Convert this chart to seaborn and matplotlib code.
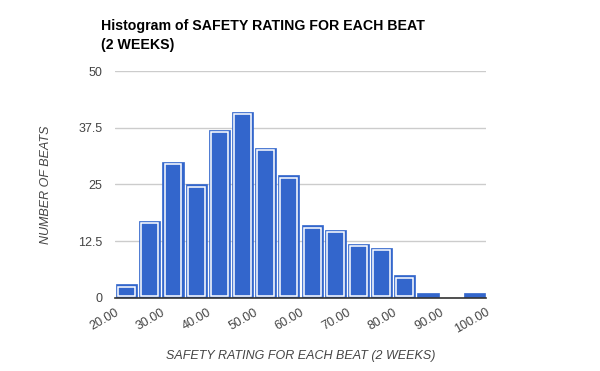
import matplotlib
matplotlib.use('Agg')
import matplotlib.pyplot as plt
from matplotlib.patches import Rectangle
import seaborn as sns

# Histogram bins (width 5) and counts
binEdges = [20, 25, 30, 35, 40, 45, 50, 55, 60, 65, 70, 75, 80, 85, 90, 95, 100]
binStarts = binEdges[:-1]
counts = [3, 17, 30, 25, 37, 41, 33, 27, 16, 15, 12, 11, 5, 1, 0, 1]
xTicks = [20, 30, 40, 50, 60, 70, 80, 90, 100]
yTicks = [0, 12.5, 25, 37.5, 50]

sns.set_style('white')
plt.rcParams['font.family'] = ['Liberation Sans', 'DejaVu Sans']

fig = plt.figure(figsize=(6, 3.71), dpi=100)
ax = fig.add_axes([0.1917, 0.1968, 0.6183, 0.6118])

sns.histplot(x=binStarts, weights=counts, bins=binEdges, ax=ax, shrink=0.91,
             color='#3366cc', alpha=1, edgecolor='#3366cc', linewidth=0.5, zorder=3)

# Google style white inner outline on each bar (inset ~2.5 px)
for p in list(ax.patches):
    h = p.get_height()
    if h > 2:
        x0 = p.get_x()
        w = p.get_width()
        ax.add_patch(Rectangle((x0 + 0.45, 0.5), w - 0.9, h - 1.0,
                               fill=False, edgecolor='white', linewidth=1.1, zorder=4))

ax.set_xlim(20, 100)
ax.set_ylim(0, 50)
ax.set_xticks(xTicks)
ax.set_xticklabels(['%.2f' % t for t in xTicks], rotation=30, ha='right',
                   rotation_mode='anchor', color='#444444', fontsize=9)
ax.set_yticks(yTicks)
ax.set_yticklabels(['0', '12.5', '25', '37.5', '50'], color='#444444', fontsize=9)
ax.tick_params(length=0, pad=9)
ax.tick_params(axis='x', pad=6)

ax.yaxis.grid(True, color='#cccccc', linewidth=1, zorder=0)
ax.set_axisbelow(True)
for s in ['top', 'right', 'left']:
    ax.spines[s].set_visible(False)
ax.spines['bottom'].set_color('#333333')
ax.spines['bottom'].set_linewidth(1.2)
ax.spines['bottom'].set_zorder(5)

ax.set_xlabel('SAFETY RATING FOR EACH BEAT (2 WEEKS)', fontstyle='italic',
              color='#444444', fontsize=9)
ax.xaxis.set_label_coords(0.5, -0.23)
ax.set_ylabel('NUMBER OF BEATS', fontstyle='italic', color='#444444', fontsize=9)
ax.yaxis.set_label_coords(-0.17, 0.5)

fig.text(101 / 600, 1 - 19 / 371, 'Histogram of SAFETY RATING FOR EACH BEAT\n(2 WEEKS)',
         fontsize=10.2, fontweight='bold', color='black', va='top', ha='left',
         linespacing=1.5)

fig.savefig('out.png', dpi=100, facecolor='white')
